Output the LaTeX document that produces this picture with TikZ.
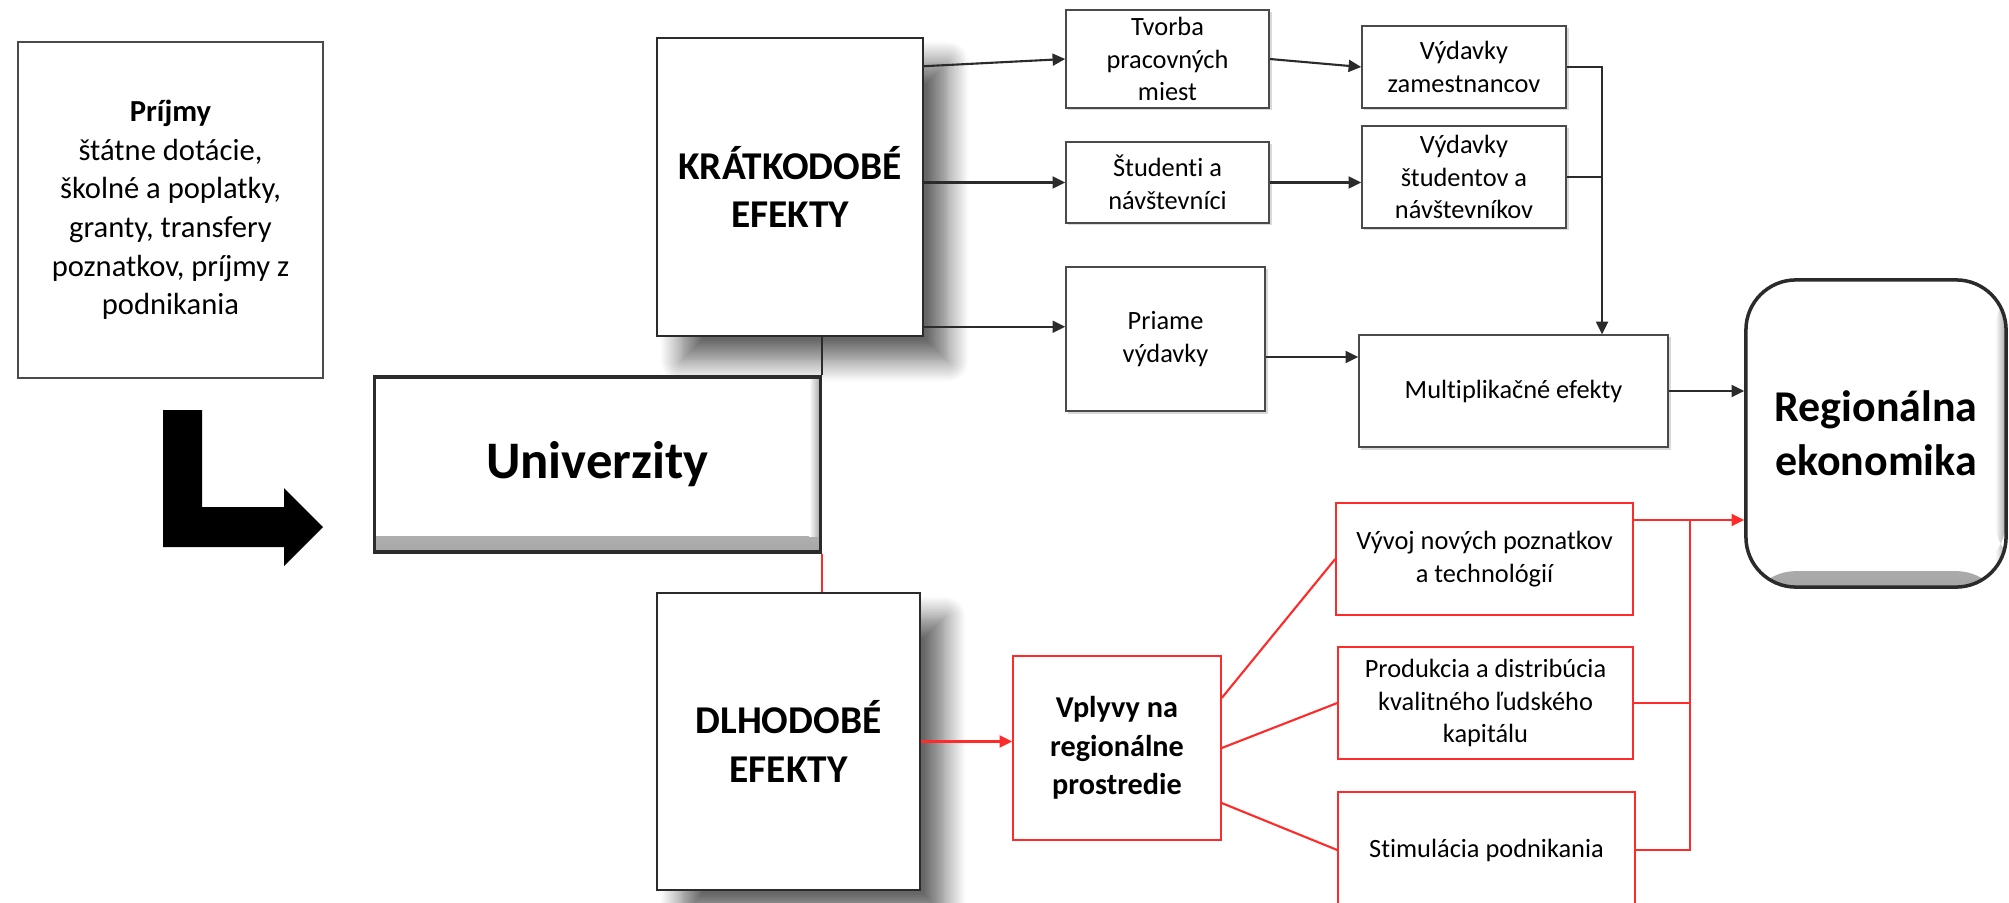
\documentclass[tikz,border=0pt]{standalone}
\usepackage{fontspec}
\setmainfont{Carlito}[Ligatures=NoCommon]
\usepackage{tikz}
\usetikzlibrary{positioning,arrows.meta,shadows,shadows.blur}
\definecolor{ink}{HTML}{2B2B2B}
\definecolor{frame}{HTML}{4A4A4A}
\definecolor{alarm}{HTML}{FF2A2A}
\definecolor{bevel}{HTML}{A6A6A6}

\begin{document}
\begin{tikzpicture}[x=0.01cm,y=-0.01cm,
  small/.style={font=\fontsize{7.5}{9.3}\selectfont},
  box/.style={small,draw=frame,fill=white,inner sep=0pt,align=center,
    drop shadow={shadow xshift=0.7pt,shadow yshift=-0.7pt,opacity=.3}},
  redbox/.style={small,draw=alarm,fill=white,inner sep=0pt,align=center},
  effect/.style={draw=ink,fill=white,inner sep=0pt,align=center,
    font=\fontsize{11.2}{13.7}\selectfont\bfseries,
    blur shadow={shadow xshift=7pt,shadow yshift=-7pt,shadow blur radius=6pt,
      shadow blur steps=14,shadow opacity=60}},
  bevelbox/.style={draw=ink,line width=0.9pt,fill=white,inner sep=0pt,align=center,
    path picture={
      \shade[top color=white,bottom color=bevel]
        ([yshift=0.16cm]path picture bounding box.south west) rectangle (path picture bounding box.south east);
      \shade[left color=white,right color=bevel]
        ([xshift=-0.11cm]path picture bounding box.north east) rectangle ([yshift=0.16cm]path picture bounding box.south east);}},
  line/.style={draw=ink,line width=0.6pt},
  arr/.style={line,-{Triangle[length=3.6pt,width=3.4pt]}},
  redline/.style={draw=alarm,line width=0.6pt},
  redarr/.style={redline,-{Triangle[length=3.6pt,width=3.4pt]}}]
  \path[use as bounding box,clip] (0,0) rectangle (2009,903);

  % inputs and the two kinds of effects
  \node[draw=frame,fill=white,inner sep=0pt,align=center,font=\fontsize{8.7}{11}\selectfont,
    minimum width=3.05cm,minimum height=3.36cm] (prijmy) at (170.5,210)
    {\textbf{Príjmy}\\štátne dotácie,\\školné a poplatky,\\granty, transfery\\poznatkov, príjmy z\\podnikania};
  \fill[black] (163,410) -- (202,410) -- (202,507) -- (284,507) -- (284,488) -- (323,527)
    -- (284,566) -- (284,547) -- (163,547) -- cycle;

  \node[effect,minimum width=2.66cm,minimum height=2.98cm] (kratko) at (790,187) {KRÁTKODOBÉ\\EFEKTY};
  \node[effect,minimum width=2.63cm,minimum height=2.97cm] (dlho) at (788.5,741.5) {DLHODOBÉ\\EFEKTY};
  \node[bevelbox,font=\fontsize{15}{18}\selectfont\bfseries,
    minimum width=4.45cm,minimum height=1.75cm] (univ) at (597.5,464.5) {Univerzity};

  % short-term chain
  \node[box,minimum width=2.03cm,minimum height=0.98cm] (tvorba) at (1167.5,59) {Tvorba\\pracovných\\miest};
  \node[box,minimum width=2.04cm,minimum height=0.82cm] (vydzam) at (1464,67) {Výdavky\\zamestnancov};
  \node[box,minimum width=2.03cm,minimum height=0.81cm] (stud) at (1167.5,182.5) {Študenti a\\návštevníci};
  \node[box,minimum width=2.04cm,minimum height=1.02cm] (vydstud) at (1464,177) {Výdavky\\študentov a\\návštevníkov};
  \node[box,minimum width=1.99cm,minimum height=1.44cm] (priame) at (1165.5,339) {Priame\\výdavky};
  \node[box,minimum width=3.09cm,minimum height=1.12cm] (multi) at (1513.5,391) {Multiplikačné efekty};
  \node[bevelbox,rounded corners=0.5cm,line width=1pt,font=\fontsize{12.5}{15.3}\selectfont\bfseries,
    minimum width=2.6cm,minimum height=3.07cm] (region) at (1876,433.5) {Regionálna\\ekonomika};

  % long-term chain
  \node[redbox,font=\fontsize{8.6}{10.9}\selectfont\bfseries,
    minimum width=2.08cm,minimum height=1.84cm] (vplyvy) at (1117,748) {Vplyvy na\\regionálne\\prostredie};
  \node[redbox,minimum width=2.97cm,minimum height=1.12cm] (vyvoj) at (1484.5,559) {Vývoj nových poznatkov\\a technológií};
  \node[redbox,minimum width=2.95cm,minimum height=1.12cm] (produkcia) at (1485.5,703) {Produkcia a distribúcia\\kvalitného ľudského\\kapitálu};
  \node[redbox,minimum width=2.97cm,minimum height=1.16cm] (stimul) at (1486.5,850) {Stimulácia podnikania};

  \coordinate (kp) at ([yshift=0.1cm]kratko.south east);
  \coordinate (pm) at ([yshift=-0.18cm]priame.east);
  \coordinate (jx) at ([xshift=0.885cm]multi.north);
  \coordinate (vt) at ([yshift=0.39cm]vyvoj.east);
  \coordinate (rx) at ([xshift=0.56cm]vyvoj.east);

  \draw[line] (univ.north east) -- (univ.north east |- kratko.south);
  \draw[redline] (univ.south east) -- (univ.south east |- dlho.north);

  \draw[arr] ([yshift=-0.29cm]kratko.north east) -- (tvorba.west);
  \draw[arr] (tvorba.east) -- (vydzam.west);
  \draw[arr] (kratko.east |- stud.west) -- (stud.west);
  \draw[arr] (stud.east) -- (stud.east -| vydstud.west);
  \draw[arr] (kp) -- (kp -| priame.west);
  \draw[arr] (pm) -- (pm -| multi.west);
  \draw[arr] (vydzam.east) -| (jx);
  \draw[line] (vydstud.east) -- (vydstud.east -| jx);
  \draw[arr] (multi.east) -- (multi.east -| region.west);

  \draw[redarr] (dlho.east) -- (dlho.east -| vplyvy.west);
  \foreach \t/\dy in {vyvoj/0.5,produkcia/0,stimul/-0.55}
    \draw[redline] ([yshift=\dy cm]vplyvy.east) -- (\t.west);
  \draw[redarr] (vt) -- (vt -| region.west);
  \draw[redline] (produkcia.east) -- (produkcia.east -| rx);
  \draw[redline] (stimul.east) -| (rx |- vt);
\end{tikzpicture}
\end{document}
